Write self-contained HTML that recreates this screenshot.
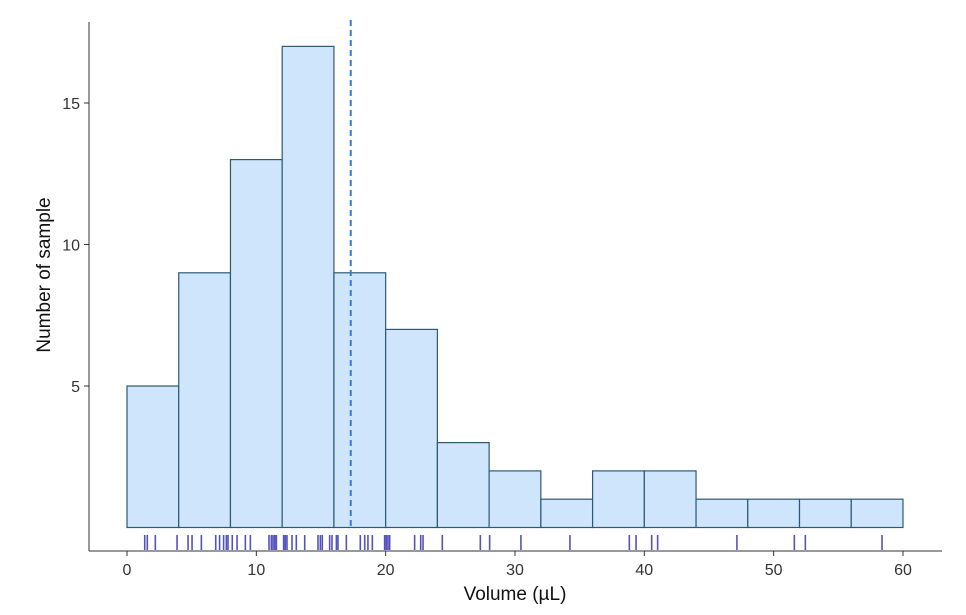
<!DOCTYPE html>
<html><head><meta charset="utf-8"><style>
html,body{margin:0;padding:0;background:#fff;}
svg{display:block;font-family:"Liberation Sans",sans-serif;}
</style></head><body>
<svg id="chart" width="966" height="615"></svg>
<script>
const binStarts=[0,4,8,12,16,20,24,28,32,36,40,44,48,52,56];
const counts=[5,9,13,17,9,7,3,2,1,2,2,1,1,1,1];
const binWidth=4;
const rugValues=[1.37,1.57,2.19,3.87,4.72,5.03,5.75,6.86,7.16,7.47,7.68,7.81,8.14,8.51,9.15,9.54,10.98,11.16,11.29,11.42,11.55,12.11,12.24,12.37,12.76,13.09,13.74,14.77,14.95,15.1,15.67,15.85,16.19,16.31,16.96,18.04,18.38,18.63,18.97,19.92,20.05,20.18,20.31,22.24,22.71,22.89,24.38,27.32,28.04,30.46,34.25,38.84,39.36,40.57,41.03,47.16,51.6,52.45,58.38];
const meanValue=17.3;
const xTicks=[0,10,20,30,40,50,60];
const yTicks=[5,10,15];
const NS="http://www.w3.org/2000/svg";
const svg=document.getElementById('chart');
const xs=v=>127+v*12.933;
const ys=v=>527.5-v*28.3;
function mk(t,a){const e=document.createElementNS(NS,t);for(const k in a)e.setAttribute(k,a[k]);svg.appendChild(e);return e;}
binStarts.forEach((b,i)=>{
  const r=mk('rect',{x:xs(b),y:ys(counts[i]),width:xs(b+binWidth)-xs(b),height:ys(0)-ys(counts[i]),fill:'#cfe5fb',stroke:'#2c5a74','stroke-width':1.2});
  
  
});
rugValues.forEach(v=>{
  const l=mk('line',{x1:xs(v),x2:xs(v),y1:535,y2:550,stroke:'#1a1aa8','stroke-opacity':0.75,'stroke-width':1.6});
  
  
});
const m=mk('line',{x1:xs(meanValue),x2:xs(meanValue),y1:20,y2:527,stroke:'#3a7bd5','stroke-width':2,'stroke-dasharray':'6,4'});


const ax=mk('line',{x1:89,x2:942,y1:551,y2:551,stroke:'#333','stroke-width':1});


const ay=mk('line',{x1:89,x2:89,y1:22,y2:551,stroke:'#333','stroke-width':1});


xTicks.forEach(t=>{
  mk('line',{x1:xs(t),x2:xs(t),y1:551,y2:556,stroke:'#333'});
  const tx=mk('text',{x:xs(t),y:575,'text-anchor':'middle','font-size':16,fill:'#333'});
  tx.textContent=t;
  
  
});
yTicks.forEach(t=>{
  mk('line',{x1:84,x2:89,y1:ys(t),y2:ys(t),stroke:'#333'});
  const tx=mk('text',{x:80,y:ys(t)+6,'text-anchor':'end','font-size':16,fill:'#333'});
  tx.textContent=t;
  
  
});
const xt=mk('text',{x:515,y:600,'text-anchor':'middle','font-size':19,fill:'#111'});
xt.textContent='Volume (µL)';


const yt=mk('text',{x:0,y:0,'text-anchor':'middle','font-size':19,fill:'#111',transform:'translate(50,275) rotate(-90)'});
yt.textContent='Number of sample';


</script>
</body></html>
